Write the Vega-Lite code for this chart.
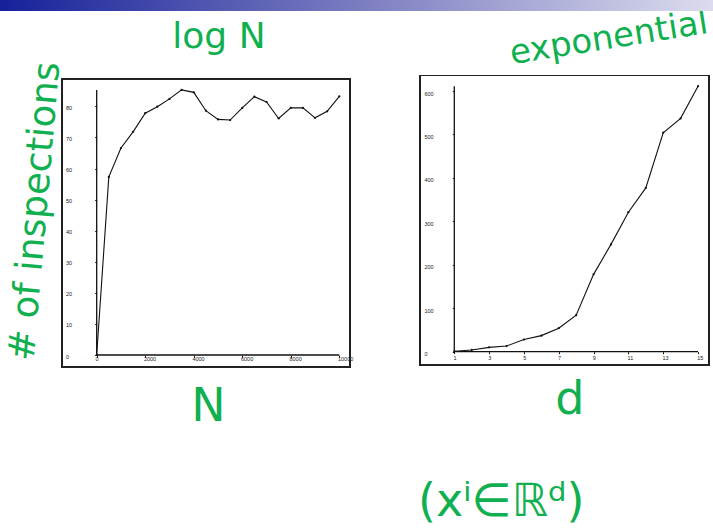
{
  "$schema": "https://vega.github.io/schema/vega-lite/v6.json",
  "width": 713,
  "height": 531,
  "autosize": {"type": "none"},
  "padding": 0,
  "background": "white",
  "config": {
    "view": {"stroke": null},
    "axis": {"grid": false, "domain": false, "ticks": true, "tickSize": 2, "tickColor": "#111", "tickWidth": 1,
      "labelFont": "Liberation Sans", "labelFontSize": 5.5, "labelColor": "#222", "labelFlush": false, "labelOverlap": false, "labelBound": false,
      "titleFont": "DejaVu Sans", "titleFontWeight": "normal", "titleColor": "#10b050"}
  },
  "resolve": {"scale": {"x": "independent", "y": "independent"}, "axis": {"x": "independent", "y": "independent"}},
  "layer": [
    {
      "data": {"values": [{"band": "header"}]},
      "mark": {"type": "rect", "color": {"gradient": "linear", "x1": 0, "y1": 0, "x2": 1, "y2": 0,
        "stops": [{"offset": 0, "color": "#16219a"}, {"offset": 0.5, "color": "#7a7cc0"}, {"offset": 1, "color": "#dcdcee"}]}},
      "encoding": {
        "y": {"field": "band", "type": "nominal", "scale": {"range": [0, 11], "paddingInner": 0, "paddingOuter": 0}, "axis": null}
      }
    },
    {
      "data": {"values": [
        {"n": 0, "v": 0}, {"n": 500, "v": 57.3}, {"n": 1000, "v": 66.6}, {"n": 1500, "v": 71.8},
        {"n": 2000, "v": 77.8}, {"n": 2500, "v": 79.9}, {"n": 3000, "v": 82.4}, {"n": 3500, "v": 85.3},
        {"n": 4000, "v": 84.5}, {"n": 4500, "v": 78.6}, {"n": 5000, "v": 75.8}, {"n": 5500, "v": 75.6},
        {"n": 6000, "v": 79.5}, {"n": 6500, "v": 83.1}, {"n": 7000, "v": 81.4}, {"n": 7500, "v": 76.1},
        {"n": 8000, "v": 79.5}, {"n": 8500, "v": 79.5}, {"n": 9000, "v": 76.3}, {"n": 9500, "v": 78.4},
        {"n": 10000, "v": 83.2}
      ]},
      "layer": [
        {
          "mark": {"type": "line", "color": "#111", "strokeWidth": 1.1, "point": {"filled": true, "size": 5, "color": "#111"}},
          "encoding": {
            "x": {"field": "n", "type": "quantitative",
              "scale": {"domain": [-1430, 10441], "range": [62, 350], "nice": false, "zero": false},
              "axis": {"orient": "bottom", "offset": -175.7, "values": [0, 2000, 4000, 6000, 8000, 10000], "format": "d",
                "labelOverlap": false, "labelFlush": false, "labelAlign": "left", "labelOffset": -1.8, "labelPadding": -1, "labelBaseline": "top",
                "title": "N", "titleFontSize": 46, "titleX": 208, "titleY": 64.7, "titleAlign": "center", "titleBaseline": "alphabetic", "titleAngle": 0}},
            "y": {"field": "v", "type": "quantitative",
              "scale": {"domain": [-3.86, 88.8], "range": [367, 79], "nice": false, "zero": false},
              "axis": {"orient": "left", "offset": -96.7, "values": [0, 10, 20, 30, 40, 50, 60, 70, 80], "format": "d",
                "labelOverlap": false, "labelFlush": false, "labelAlign": "left", "labelPadding": 29.2, "labelBaseline": "middle", "labelOffset": 1,
                "title": "# of inspections", "titleFontSize": 37, "titleAngle": -85, "titleX": -61.7, "titleY": 211, "titleAlign": "center", "titleBaseline": "middle"}}
          }
        },
        {
          "mark": {"type": "rect", "filled": false, "color": "#222", "strokeWidth": 1.1},
          "encoding": {
            "x": {"datum": -1430, "type": "quantitative"},
            "x2": {"datum": 10441},
            "y": {"datum": -3.86, "type": "quantitative"},
            "y2": {"datum": 88.8}
          }
        },
        {
          "transform": [{"aggregate": [{"op": "min", "field": "n", "as": "nmin"}, {"op": "max", "field": "n", "as": "nmax"}, {"op": "max", "field": "v", "as": "vmax"}]}],
          "layer": [
            {
              "mark": {"type": "rule", "color": "#111", "strokeWidth": 1.3},
              "encoding": {
                "x": {"field": "nmin", "type": "quantitative"},
                "y": {"field": "vmax", "type": "quantitative"},
                "y2": {"datum": 0}
              }
            },
            {
              "mark": {"type": "rule", "color": "#111", "strokeWidth": 1.3},
              "encoding": {
                "y": {"datum": 0, "type": "quantitative"},
                "x": {"field": "nmin", "type": "quantitative"},
                "x2": {"field": "nmax"}
              }
            }
          ]
        },
        {
          "data": {"values": [{"note": "log N"}]},
          "mark": {"type": "text", "font": "DejaVu Sans", "fontSize": 36, "color": "#10b050", "align": "center", "baseline": "alphabetic"},
          "encoding": {
            "text": {"field": "note"},
            "x": {"datum": 5040, "type": "quantitative"},
            "y": {"datum": 98.8, "type": "quantitative"}
          }
        }
      ]
    },
    {
      "data": {"values": [
        {"d": 1, "v": 1}, {"d": 2, "v": 4}, {"d": 3, "v": 10}, {"d": 4, "v": 13}, {"d": 5, "v": 28},
        {"d": 6, "v": 37}, {"d": 7, "v": 54}, {"d": 8, "v": 84}, {"d": 9, "v": 178}, {"d": 10, "v": 247},
        {"d": 11, "v": 321}, {"d": 12, "v": 377}, {"d": 13, "v": 504}, {"d": 14, "v": 537}, {"d": 15, "v": 611}
      ]},
      "layer": [
        {
          "mark": {"type": "line", "color": "#111", "strokeWidth": 1.1, "point": {"filled": true, "size": 5, "color": "#111"}},
          "encoding": {
            "x": {"field": "d", "type": "quantitative",
              "scale": {"domain": [-0.97, 15.63], "range": [420, 709], "nice": false, "zero": false},
              "axis": {"orient": "bottom", "offset": -179.3, "values": [1, 3, 5, 7, 9, 11, 13, 15], "format": "d",
                "labelOverlap": false, "labelFlush": false, "labelAlign": "left", "labelOffset": -1.3, "labelPadding": 1.3, "labelBaseline": "top",
                "title": ["d", "(xⁱ∈ℝᵈ)"], "titleFontSize": 46, "titleX": 584, "titleY": 61.3, "titleAlign": "right", "titleBaseline": "alphabetic", "titleLineHeight": 102, "titleAngle": 0}},
            "y": {"field": "v", "type": "quantitative",
              "scale": {"domain": [-30.6, 635.7], "range": [365, 75.5], "nice": false, "zero": false},
              "axis": {"orient": "left", "offset": -454.3, "values": [0, 100, 200, 300, 400, 500, 600], "format": "d",
                "labelOverlap": false, "labelFlush": false, "labelAlign": "left", "labelPadding": 28.3, "labelBaseline": "middle", "labelOffset": 2,
                "title": "exponential", "titleFontSize": 34, "titleAngle": -9, "titleX": 155.7, "titleY": 48, "titleAlign": "center", "titleBaseline": "alphabetic"}}
          }
        },
        {
          "mark": {"type": "rect", "filled": false, "color": "#222", "strokeWidth": 1.1},
          "encoding": {
            "x": {"datum": -0.97, "type": "quantitative"},
            "x2": {"datum": 15.63},
            "y": {"datum": -30.6, "type": "quantitative"},
            "y2": {"datum": 635.7}
          }
        },
        {
          "transform": [{"aggregate": [{"op": "min", "field": "d", "as": "dmin"}, {"op": "max", "field": "d", "as": "dmax"}, {"op": "max", "field": "v", "as": "vmax"}]}],
          "layer": [
            {
              "mark": {"type": "rule", "color": "#111", "strokeWidth": 1.3},
              "encoding": {
                "x": {"field": "dmin", "type": "quantitative"},
                "y": {"field": "vmax", "type": "quantitative"},
                "y2": {"datum": 0}
              }
            },
            {
              "mark": {"type": "rule", "color": "#111", "strokeWidth": 1.3},
              "encoding": {
                "y": {"datum": 0, "type": "quantitative"},
                "x": {"field": "dmin", "type": "quantitative"},
                "x2": {"field": "dmax"}
              }
            }
          ]
        }
      ]
    }
  ]
}
